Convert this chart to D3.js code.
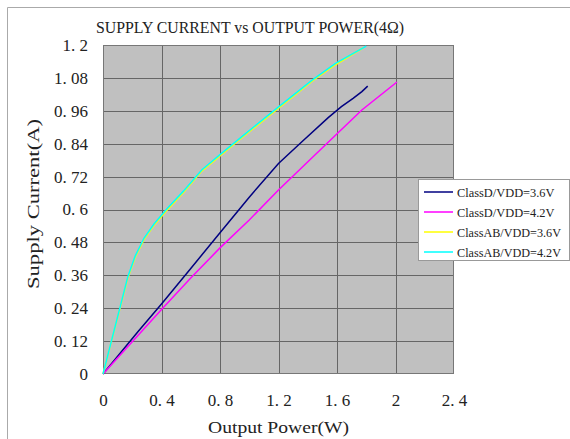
<!DOCTYPE html>
<html>
<head>
<meta charset="utf-8">
<script src="https://cdn.jsdelivr.net/npm/d3@7"></script>
<style>
  body { margin: 0; background: #fff; }
  svg { display: block; }
  text { font-family: "Liberation Serif", "DejaVu Serif", serif; fill: #222; }
</style>
</head>
<body>
<div id="chart"></div>
<script>
// supply current vs output power, 4 ohm load
const chartTitle = "SUPPLY CURRENT vs OUTPUT POWER(4Ω)";
const xLabel = "Output Power(W)";
const yLabel = "Supply Current(A)";
const xTicks = [0, 0.4, 0.8, 1.2, 1.6, 2, 2.4];
const yTicks = [0, 0.12, 0.24, 0.36, 0.48, 0.6, 0.72, 0.84, 0.96, 1.08, 1.2];

const seriesNames = ["ClassD/VDD=3.6V", "ClassD/VDD=4.2V", "ClassAB/VDD=3.6V", "ClassAB/VDD=4.2V"];
const seriesColors = ["#000080", "#ff00ff", "#ffff00", "#00ffff"];

// [power W, current A]
const classD36 = [[0, 0], [0.24, 0.155], [0.4, 0.255], [0.6, 0.385], [0.8, 0.515], [1.0, 0.645],
  [1.2, 0.768], [1.36, 0.847], [1.54, 0.935], [1.63, 0.975], [1.71, 1.005], [1.77, 1.03], [1.81, 1.05]];
const classD42 = [[0, 0], [0.2, 0.118], [0.4, 0.235], [0.6, 0.35], [0.8, 0.46], [1.0, 0.562],
  [1.2, 0.671], [1.52, 0.835], [1.77, 0.963], [2.01, 1.065]];
const classAB36 = [[0, 0], [0.17, 0.35], [0.22, 0.425], [0.28, 0.49], [0.35, 0.543], [0.43, 0.593],
  [0.55, 0.662], [0.675, 0.74], [0.8, 0.795], [0.95, 0.862], [1.19, 0.965], [1.43, 1.068], [1.59, 1.128], [1.78, 1.19]];
const classAB42 = [[0, 0], [0.17, 0.355], [0.22, 0.43], [0.28, 0.495], [0.35, 0.548], [0.43, 0.598],
  [0.55, 0.667], [0.675, 0.744], [0.8, 0.8], [0.95, 0.866], [1.19, 0.97], [1.43, 1.072], [1.59, 1.133], [1.8, 1.196]];
const seriesData = [classD36, classD42, classAB36, classAB42];

const W = 570, H = 439;
const margin = {top: 45, right: 116, bottom: 65, left: 103};
const width = W - margin.left - margin.right,
      height = H - margin.top - margin.bottom;

const svg = d3.select("#chart").append("svg")
    .attr("width", W)
    .attr("height", H);

// outer frame (only top and left edges are visible)
svg.append("path")
    .attr("d", "M7.5," + H + "V7.5H" + W)
    .attr("fill", "none")
    .attr("stroke", "#aaa");

svg.append("text")
    .attr("x", 96)
    .attr("y", 33)
    .attr("textLength", 308)
    .attr("lengthAdjust", "spacingAndGlyphs")
    .style("font-size", "17px")
    .text(chartTitle);

const g = svg.append("g")
    .attr("transform", "translate(" + margin.left + "," + margin.top + ")");

const x = d3.scaleLinear().domain([0, 2.4]).range([0, width]);
const y = d3.scaleLinear().domain([0, 1.2]).range([height, 0]);

// cjk-style number spacing: "1. 2"
const fmt = d => String(+d.toFixed(2)).replace(".", ". ");

g.append("rect")
    .attr("width", width)
    .attr("height", height)
    .attr("fill", "#c0c0c0");

// grid
g.append("g")
    .selectAll("line")
    .data(xTicks.slice(1, -1))
    .join("line")
    .attr("x1", d => Math.round(x(d)) + 0.5)
    .attr("x2", d => Math.round(x(d)) + 0.5)
    .attr("y1", 0)
    .attr("y2", height)
    .attr("stroke", "#666");
g.append("g")
    .selectAll("line")
    .data(yTicks.slice(1, -1))
    .join("line")
    .attr("y1", d => Math.round(y(d)) + 0.5)
    .attr("y2", d => Math.round(y(d)) + 0.5)
    .attr("x1", 0)
    .attr("x2", width)
    .attr("stroke", "#666");

g.append("rect")
    .attr("x", 0.5)
    .attr("y", 0.5)
    .attr("width", width - 1)
    .attr("height", height - 1)
    .attr("fill", "none")
    .attr("stroke", "#777");

// axes, tick labels only
const xAxis = d3.axisBottom(x).tickValues(xTicks).tickSize(0).tickPadding(20).tickFormat(fmt);
const yAxis = d3.axisLeft(y).tickValues(yTicks).tickSize(0).tickPadding(15).tickFormat(fmt);

g.append("g")
    .attr("class", "x axis")
    .attr("transform", "translate(0," + height + ")")
    .call(xAxis)
    .call(s => s.select(".domain").remove())
    .selectAll("text")
    .attr("fill", "#222")
    .style("font-size", "17px")
    .style("font-family", "Liberation Serif");

g.append("g")
    .attr("class", "y axis")
    .call(yAxis)
    .call(s => s.select(".domain").remove())
    .selectAll("text")
    .attr("fill", "#222")
    .style("font-size", "17px")
    .style("font-family", "Liberation Serif");

// axis titles
svg.append("text")
    .attr("x", margin.left + width / 2)
    .attr("y", 433)
    .style("text-anchor", "middle")
    .style("font-size", "16px")
    .attr("textLength", 141)
    .attr("lengthAdjust", "spacingAndGlyphs")
    .text(xLabel);

svg.append("text")
    .attr("transform", "translate(39," + 204 + ") rotate(-90)")
    .style("text-anchor", "middle")
    .style("font-size", "16px")
    .attr("textLength", 170)
    .attr("lengthAdjust", "spacingAndGlyphs")
    .text(yLabel);

// lines
const line = d3.line()
    .x(d => x(d[0]))
    .y(d => y(d[1]));

seriesData.forEach(function(data, i) {
    g.append("path")
        .datum(data)
        .attr("fill", "none")
        .attr("stroke", seriesColors[i])
        .attr("stroke-width", 1.5)
        .attr("d", line);
});

// legend (box runs up to the right edge)
const legend = svg.append("g")
    .attr("transform", "translate(418,179)");

legend.append("rect")
    .attr("x", 0.5)
    .attr("y", 0.5)
    .attr("width", W - 418 - 1)
    .attr("height", 81)
    .attr("fill", "#fff")
    .attr("stroke", "#999");

const item = legend.selectAll(".item")
    .data(seriesNames)
    .join("g")
    .attr("class", "item")
    .attr("transform", (d, i) => "translate(0," + (13 + i * 20) + ")");

item.append("line")
    .attr("x1", 6)
    .attr("x2", 35)
    .attr("stroke", (d, i) => seriesColors[i])
    .attr("stroke-width", 1.5);

item.append("text")
    .attr("x", 39)
    .attr("dy", "0.35em")
    .style("font-size", "13px")
    .attr("textLength", d => d.length * 6.5)
    .attr("lengthAdjust", "spacingAndGlyphs")
    .text(d => d);
</script>
</body>
</html>
